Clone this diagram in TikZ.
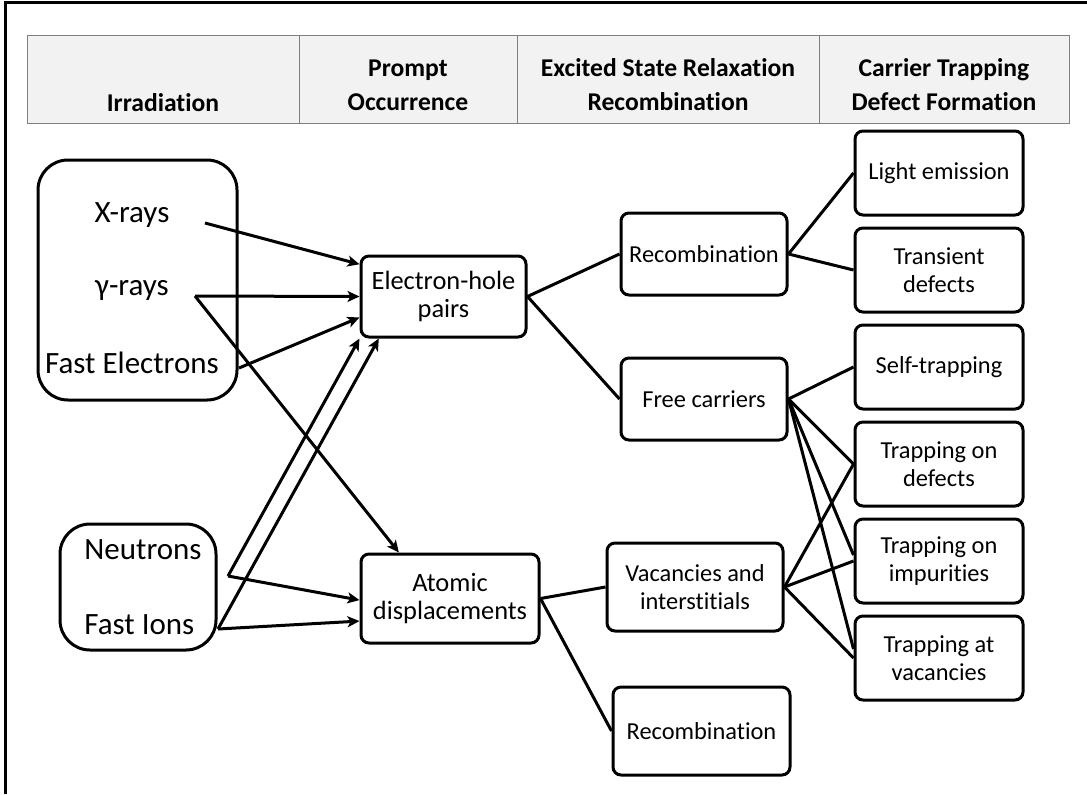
\documentclass[tikz,border=0pt]{standalone}
\usepackage{fontspec}
\setmainfont{Carlito}[Ligatures=NoCommon]
\usetikzlibrary{arrows.meta}
\usetikzlibrary{positioning}

\tikzset{
  box/.style={draw, line width=1.5pt, rounded corners=4pt, align=center, inner sep=1pt,
    font=\fontsize{12.2}{14}\selectfont},
  prompt/.style={box, font=\fontsize{13.2}{14}\selectfont},
  stage/.style={box, minimum width=84pt, minimum height=42pt},
  group/.style={draw, line width=1.5pt, rounded corners=15pt},
  source/.style={inner sep=0pt, font=\fontsize{15.5}{16}\selectfont},
  head/.style={inner sep=0pt, align=center, font=\fontsize{12.8}{17}\selectfont\bfseries},
  feed/.style={line width=1.5pt, -{Stealth[length=6pt,width=5.5pt,inset=1.5pt]}},
  link/.style={line width=1.5pt},
}

\begin{document}
\begin{tikzpicture}[x=0.5pt, y=-0.5pt]
      \useasboundingbox (0,0) rectangle (1087,794);
      \draw[line width=1.5pt] (5,794) -- (5,2) -- (1087,2);

      \draw[black!50, fill=black!5, line width=0.5pt] (27,35) rectangle (1069,123);
      \foreach \x in {299,517,819}
        \draw[black!50, line width=0.5pt] (\x,35) -- (\x,123);
      \node[head] (hirr) at (163,103) {Irradiation};
      \node[head] (hprompt) at (408,85) {Prompt\\Occurrence};
      \node[head] (hexc) at (668,85) {Excited State Relaxation\\Recombination};
      \node[head] (htrap) at (944,85) {Carrier Trapping\\Defect Formation};

      \node[group, minimum width=99.5pt, minimum height=120pt] (rays) at (137.5,280) {};
      \node[source] (xray) at (132,215) {X-rays};
      \node[source] (gamma) at (132,290) {γ-rays};
      \node[source] (fastel) at (132,363) {Fast Electrons};

      \node[group, minimum width=78pt, minimum height=63pt] (heavy) at (138,587) {};
      \node[source, anchor=west] (neut) at (84,550) {Neutrons};
      \node[source, anchor=west] (ions) at (84,625) {Fast Ions};

      \node[prompt, minimum width=82.5pt, minimum height=40.5pt] (ehp) at (443.5,296.5) {Electron-hole\\pairs};
      \node[prompt, minimum width=89pt, minimum height=44.5pt] (atom) at (450,598.5) {Atomic\\displacements};

      \node[box, minimum width=83pt, minimum height=41pt] (rec1) at (704,254) {Recombination};
      \node[box, minimum width=83pt, minimum height=41pt] (free) at (704,399) {Free carriers};
      \node[box, minimum width=88pt, minimum height=44pt] (vi) at (695,587) {Vacancies and\\interstitials};
      \node[box, minimum width=88.5pt, minimum height=44pt] (rec2) at (701.5,731) {Recombination};

      \node[stage] (light) at (939,173) {Light emission};
      \node[stage, below=5pt of light] (trans) {Transient\\defects};
      \node[stage, below=5pt of trans] (selft) {Self-trapping};
      \node[stage, below=5pt of selft] (tdef) {Trapping on\\defects};
      \node[stage, below=5pt of tdef] (timp) {Trapping on\\impurities};
      \node[stage, below=5pt of timp] (tvac) {Trapping at\\vacancies};

      \coordinate (xtail) at (205,223);
      \coordinate (gtail) at (195,296);
      \coordinate (etail) at (239,368);
      \coordinate (ntail) at (228,576);
      \coordinate (itail) at (218,629);

      \draw[feed] (xtail) -- (ehp.159);
      \draw[feed] (gtail) -- (ehp.west);
      \draw[feed] (etail) -- (ehp.194);
      \draw[feed] (gtail) -- (atom.138);
      \draw[feed] (ntail) -- (ehp.south west);
      \draw[feed] (itail) -- (ehp.213);
      \draw[feed] (ntail) -- (atom.181);
      \draw[feed] (itail) -- (atom.194);

      \draw[link] (ehp.east) -- (rec1.west);
      \draw[link] (ehp.east) -- (free.west);
      \draw[link] (rec1.east) -- (light.west);
      \draw[link] (rec1.east) -- (trans.west);
      \draw[link] (free.east) -- (selft.west);
      \draw[link] (free.east) -- (tdef.west);
      \draw[link] (free.east) -- (timp.176);
      \draw[link] (free.east) -- (tvac.174);
      \draw[link] (vi.east) -- (tdef.west);
      \draw[link] (vi.east) -- (timp.west);
      \draw[link] (vi.east) -- (tvac.west);
      \draw[link] (atom.east) -- (vi.west);
      \draw[link] (atom.east) -- (rec2.west);
\end{tikzpicture}
\end{document}
